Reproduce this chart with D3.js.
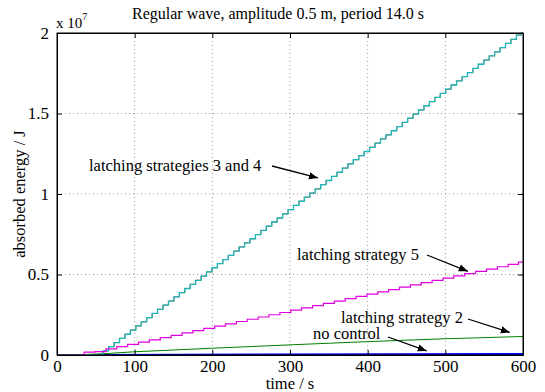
<!DOCTYPE html>
<meta charset="utf-8">
<style>
body { margin: 0; background: #fff; }
svg text { font-family: "Liberation Serif", "Times New Roman", serif; fill: #000; }
.grid line { stroke: #999; stroke-dasharray: 1,3; }
</style>
<svg width="545" height="392"></svg>
<script src="https://d3js.org/d3.v7.min.js"></script>
<script>
// energy values in units of 1e7 J
var halfPeriodT = d3.range(0, 600, 7).concat([600]);   // sample times, s
var periodT = d3.range(0, 600, 14).concat([600]);

var strat34 = [0,0,0,0,0,0,0,0,0,
  .026,.052,.077,.103,.129,.155,.181,.206,.232,.258,.284,.310,.335,.361,.387,.413,.439,.464,.490,
  .516,.542,.568,.593,.619,.645,.671,.697,.722,.748,.774,.800,.826,.851,.877,.903,.929,.955,.980,
  1.006,1.032,1.058,1.084,1.109,1.135,1.161,1.187,1.213,1.238,1.264,1.290,1.316,1.342,1.367,1.393,
  1.419,1.445,1.471,1.496,1.522,1.548,1.574,1.600,1.625,1.651,1.677,1.703,1.729,1.754,1.780,1.806,
  1.832,1.858,1.883,1.909,1.935,1.961,1.987,2.0];

var strat5 = [0, 0, 0, .018, .021, .038, .052, .066, .080, .094, .108, .122, .137, .151, .165,
  .179, .193, .208, .222, .236, .250, .264, .279, .293, .307, .321, .335, .350, .364, .378, .392,
  .406, .421, .435, .449, .463, .477, .492, .506, .520, .534, .548, .563, .577];

var strat2T = [0, 25, 40, 60, 100, 200, 300, 400, 500, 600];
var strat2 = [0, 0, .004, .008, .020, .042, .063, .083, .101, .115];

var noCtrlT = [0, 52, 600];
var noCtrl = [0, 0, .005];

var xTicks = [0, 100, 200, 300, 400, 500, 600];
var yTicks = [0, 0.5, 1, 1.5, 2];

var svg = d3.select("svg"),
    margin = {top: 33, right: 22, bottom: 37, left: 57},
    width = +svg.attr("width") - margin.left - margin.right,
    height = +svg.attr("height") - margin.top - margin.bottom;

var x = d3.scaleLinear().domain([0, 600]).range([0, width]);
var y = d3.scaleLinear().domain([0, 2]).range([height, 0]);

var g = svg.append("g").attr("transform", "translate(" + margin.left + "," + margin.top + ")");

// grid
var grid = g.append("g").attr("class", "grid");
grid.selectAll(".gx").data(xTicks.slice(1, -1)).enter().append("line")
    .attr("x1", x).attr("x2", x).attr("y1", 0).attr("y2", height);
grid.selectAll(".gy").data(yTicks.slice(1, -1)).enter().append("line")
    .attr("x1", 0).attr("x2", width).attr("y1", y).attr("y2", y);

// lines
var stairs = d3.line().x(function(d) { return x(d[0]); }).y(function(d) { return y(d[1]); }).curve(d3.curveStep);
var straight = d3.line().x(function(d) { return x(d[0]); }).y(function(d) { return y(d[1]); });

function pairs(t, v) { return t.map(function(tt, i) { return [tt, v[i]]; }); }

g.append("path").attr("d", straight(pairs(noCtrlT, noCtrl))).attr("fill", "none").attr("stroke", "#0000ff").attr("stroke-width", 2.2);
g.append("path").attr("d", straight(pairs(strat2T, strat2))).attr("fill", "none").attr("stroke", "#008000").attr("stroke-width", 1);
g.append("path").attr("d", stairs(pairs(halfPeriodT, strat34))).attr("fill", "none").attr("stroke", "#c04a3a").attr("stroke-width", 1);
g.append("path").attr("d", stairs(pairs(halfPeriodT, strat34))).attr("fill", "none").attr("stroke", "#1ab9b9").attr("stroke-width", 1.3);
g.append("path").attr("d", stairs(pairs(periodT, strat5))).attr("fill", "none").attr("stroke", "#e000e0").attr("stroke-width", 1.2);

// axes: inward ticks on all four sides
g.append("g").attr("transform", "translate(0," + height + ")")
    .call(d3.axisBottom(x).tickValues(xTicks).tickSizeInner(-5).tickSizeOuter(0).tickPadding(5).tickFormat(d3.format("d")));
g.append("g")
    .call(d3.axisTop(x).tickValues(xTicks).tickSizeInner(-5).tickSizeOuter(0).tickFormat(""));
g.append("g")
    .call(d3.axisLeft(y).tickValues(yTicks).tickSizeInner(-5).tickSizeOuter(0).tickPadding(8).tickFormat(function(d) { return d; }));
g.append("g").attr("transform", "translate(" + width + ",0)")
    .call(d3.axisRight(y).tickValues(yTicks).tickSizeInner(-5).tickSizeOuter(0).tickFormat(""));

g.selectAll(".domain").attr("stroke", "#000");
g.selectAll(".tick line").attr("stroke", "#000");
g.selectAll("g").attr("font-family", null);
g.selectAll(".tick text").style("font-size", "17px");

// frame
g.append("rect").attr("width", width).attr("height", height).attr("fill", "none").attr("stroke", "#000");

// title and labels
svg.append("text").attr("x", 278).attr("y", 19).attr("text-anchor", "middle").style("font-size", "16px")
    .text("Regular wave, amplitude 0.5 m, period 14.0 s");
var sci = svg.append("text").attr("x", 56).attr("y", 28).style("font-size", "15px");
sci.append("tspan").text("x 10");
sci.append("tspan").attr("dy", -8).style("font-size", "10px").text("7");
svg.append("text").attr("x", 290).attr("y", 389).attr("text-anchor", "middle").style("font-size", "16.5px").text("time / s");
svg.append("text").attr("transform", "translate(25,194) rotate(-90)").attr("text-anchor", "middle").style("font-size", "16.5px")
    .text("absorbed energy / J");

// annotations
svg.append("defs").append("marker").attr("id", "ah").attr("viewBox", "0 0 10 10").attr("refX", 10).attr("refY", 5)
    .attr("markerWidth", 9).attr("markerHeight", 9).attr("markerUnits", "userSpaceOnUse").attr("orient", "auto")
  .append("path").attr("d", "M0,1L10,5L0,9z").attr("fill", "#000");

var notes = [
  {text: "latching strategies 3 and 4", tx: 89, ty: 171, x1: 272, y1: 166, t: 336, v: 1.1},
  {text: "latching strategy 5", tx: 297, ty: 260, x1: 427, y1: 255, t: 529, v: 0.52},
  {text: "latching strategy 2", tx: 341, ty: 323, x1: 468, y1: 319, t: 583, v: 0.14},
  {text: "no control", tx: 313, ty: 339, x1: 388, y1: 337, t: 476, v: 0.025}
];
notes.forEach(function(n) {
  svg.append("text").attr("x", n.tx).attr("y", n.ty).style("font-size", "16.5px").text(n.text);
  svg.append("line").attr("x1", n.x1).attr("y1", n.y1)
      .attr("x2", margin.left + x(n.t)).attr("y2", margin.top + y(n.v))
      .attr("stroke", "#000").attr("stroke-width", 1.3).attr("marker-end", "url(#ah)");
});
</script>
